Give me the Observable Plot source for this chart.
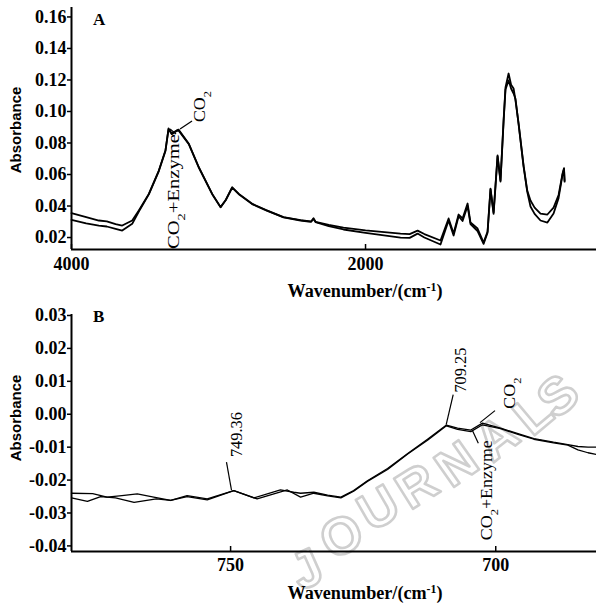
<!DOCTYPE html>
<html><head><meta charset="utf-8">
<script src="https://cdn.jsdelivr.net/npm/d3@7"></script>
<script src="https://cdn.jsdelivr.net/npm/@observablehq/plot@0.6"></script>
<style>
body{margin:0;background:#fff;}
#chart{width:596px;}
#chart svg{display:block;}
</style></head><body><div id="chart"></div>
<script>
// ---------- Panel A data (full spectrum) ----------
const waveA = [4000,3900,3814,3760,3700,3655,3587,3542,3474,3406,3361,3340,3318,3285,3272,3202,3134,3043,2986,2950,2907,2862,2771,2680,2558,2442,2400,2370,2354,2340,2250,2150,2000,1762,1700,1646,1600,1490,1435,1401,1367,1340,1306,1286,1238,1197,1170,1150,1129,1102,1082,1061,1048,1027,1010,993,980,959,925,900,878,850,810,763,721,687,660,650,646];
const absA_CO2 = [0.0355,0.0330,0.0308,0.0303,0.0285,0.0276,0.0308,0.0371,0.0477,0.0625,0.0752,0.0892,0.0860,0.0880,0.0885,0.0795,0.0646,0.0477,0.0393,0.0440,0.0519,0.0477,0.0414,0.0376,0.0330,0.0310,0.0305,0.0302,0.0322,0.0300,0.0280,0.0263,0.0245,0.0225,0.0222,0.0244,0.0222,0.0181,0.0321,0.0225,0.0346,0.0321,0.0416,0.0295,0.0257,0.0168,0.0238,0.0511,0.0359,0.0721,0.0562,0.0943,0.1152,0.1241,0.1170,0.1146,0.1070,0.0924,0.0657,0.0498,0.0435,0.0390,0.0352,0.0346,0.0390,0.0470,0.0606,0.0640,0.0560];
const absA_Enz = [0.0312,0.0290,0.0276,0.0270,0.0255,0.0244,0.0287,0.0365,0.0474,0.0622,0.0750,0.0888,0.0856,0.0876,0.0880,0.0793,0.0644,0.0475,0.0392,0.0438,0.0517,0.0475,0.0412,0.0374,0.0328,0.0308,0.0303,0.0300,0.0318,0.0298,0.0272,0.0251,0.0230,0.0200,0.0198,0.0225,0.0200,0.0156,0.0308,0.0213,0.0335,0.0305,0.0400,0.0285,0.0240,0.0160,0.0230,0.0505,0.0350,0.0715,0.0555,0.0935,0.1140,0.1197,0.1146,0.1114,0.1080,0.0920,0.0650,0.0490,0.0397,0.0350,0.0308,0.0295,0.0352,0.0450,0.0600,0.0635,0.0555];
const yTicksA = [0.02,0.04,0.06,0.08,0.10,0.12,0.14,0.16];
const xTicksA = [4000,2000];

// ---------- Panel B data (zoomed region) ----------
const waveB_CO2 = [780,776,773.3,770.5,767.6,764.5,761.3,758.2,754.4,749.4,745.6,740.6,738.1,736.8,734.3,731.7,729.2,726.8,724.2,720.4,716.6,712.8,709.3,707.2,704.7,702.5,699.1,695.8,692.8,689.1,686.4,684.5,682.6,681];
const absB_CO2 = [-0.0240,-0.0241,-0.0252,-0.0247,-0.0242,-0.0252,-0.0262,-0.0250,-0.0260,-0.0232,-0.0254,-0.0230,-0.0237,-0.0240,-0.0237,-0.0246,-0.0252,-0.0232,-0.0202,-0.0165,-0.0119,-0.0075,-0.0033,-0.0042,-0.0048,-0.0027,-0.0042,-0.0059,-0.0074,-0.0085,-0.0092,-0.0098,-0.0100,-0.0100];
const waveB_Enz = [780,777,774.5,771.7,768.2,764,761.3,758.2,754.4,749.4,745,739.3,736.8,734.3,731.7,729.2,726.8,724.2,720.4,716.6,712.8,709.3,707.2,704.7,702.5,699.1,695.8,692.8,689.1,686.4,684.5,682.6,681];
const absB_Enz = [-0.0254,-0.0265,-0.0250,-0.0254,-0.0268,-0.0257,-0.0262,-0.0247,-0.0257,-0.0232,-0.0257,-0.0230,-0.0252,-0.0240,-0.0248,-0.0254,-0.0234,-0.0204,-0.0168,-0.0121,-0.0078,-0.0035,-0.0046,-0.0053,-0.0032,-0.0044,-0.0061,-0.0076,-0.0087,-0.0094,-0.0108,-0.0117,-0.0122];
const yTicksB = [0.03,0.02,0.01,0.00,-0.01,-0.02,-0.03,-0.04];
const xTicksB = [750,700];

// ---------- Text ----------
const panelLabels = ["A","B"];
const yLabel = "Absorbance";
const xLabel = "Wavenumber/(cm⁻¹)";
const annoA_labels = ["CO₂+Enzyme","CO₂"];
const annoA_wave = [3340,3272];
const annoA_abs = [0.0892,0.0885];
const annoB_labels = ["749.36","709.25","CO₂","CO₂+Enzyme"];
const annoB_wave = [749.36,709.25,702.5,704.7];
const annoB_abs = [-0.0232,-0.0033,-0.0027,-0.0050];
const watermark = "JOURNALS";

// ---------- Layout (pixels) ----------
const SERIF = "'Liberation Serif','Times New Roman',serif";
const SANS = "'Liberation Sans',Arial,sans-serif";
const layoutA = {height:300, top:7, bottom:51, xDomain:[4000,429], yDomain:[0.0124,0.166], tickPad:8, lw:1.8,
  labelXY:[93,25], yLabelY:130, xLabelY:297,
  anno:[{lead:[2,1,8,6], pos:[11,121], len:115},{lead:[2,0,14,-8], pos:[27,-7], len:31}]};
const layoutB = {height:305, top:14, bottom:54, xDomain:[780,681], yDomain:[-0.0417,0.0303], tickPad:7, lw:1.3,
  labelXY:[93,22], yLabelY:118, xLabelY:299,
  anno:[{lead:[-2,0,-7,-28], pos:[9,-33], len:45},{lead:[0,0,7,-30], pos:[20,-32], len:45},
        {lead:[-2,0,13,-12], pos:[33,-14], len:31},{lead:[2,0,8,13], pos:[22,110], len:100}]};
// watermark letter centres and rotations (panel B pixel coords)
const wmLayout = [[306,268,-24],[341,235,-27],[378,207,-30],[416,185,-32],[456,163,-35],[496,137,-38],[532,113,-40],[557,95,-42]];

function addText(sel, {x, y, rotate=0, text, size, family, weight="normal", anchor="start", len=null}) {
  const t = sel.append("text")
    .attr("transform", `translate(${x},${y}) rotate(${rotate})`)
    .attr("font-size", size).attr("font-family", family).attr("font-weight", weight)
    .attr("text-anchor", anchor).attr("fill", "#000");
  if (len) t.attr("textLength", len).attr("lengthAdjust", "spacingAndGlyphs");
  text.split(/(₂|⁻¹)/).forEach(p => {
    if (p === "₂") t.append("tspan").attr("baseline-shift", "sub").attr("font-size", "70%").text("2");
    else if (p === "⁻¹") t.append("tspan").attr("baseline-shift", "super").attr("font-size", "65%").text("-1");
    else if (p) t.append("tspan").text(p);
  });
  return t;
}

function panel(series, L, xTicks, yTicks, label, annoLabels, annoWave, annoAbs) {
  const [y0] = L.yDomain;
  const tickLen = (L.yDomain[1] - L.yDomain[0]) * 5 / (L.height - L.top - L.bottom);
  const plot = Plot.plot({
    width: 596, height: L.height, marginLeft: 71, marginRight: 0, marginTop: L.top, marginBottom: L.bottom,
    style: {fontFamily: SERIF, fontSize: "18px", fontWeight: "bold", color: "#000", background: "#fff", overflow: "visible"},
    x: {domain: L.xDomain}, y: {domain: L.yDomain},
    marks: [
      Plot.axisY(yTicks, {tickSize: 4, tickPadding: 1, strokeWidth: 1.5, tickFormat: d => d.toFixed(2), label: null}),
      Plot.axisX(xTicks, {tickSize: 0, tickPadding: L.tickPad, tickFormat: d => String(d), label: null}),
      Plot.ruleX(xTicks, {y1: y0, y2: y0 + tickLen, strokeWidth: 1.5}),
      Plot.ruleY([y0], {strokeWidth: 2}),
      Plot.ruleX([L.xDomain[0]], {strokeWidth: 2}),
      ...series.map(s => Plot.line(s.wave.map((w, i) => ({w, a: s.abs[i]})),
        {x: "w", y: "a", stroke: "#000", strokeWidth: L.lw, strokeLinejoin: "round"}))
    ]
  });
  const svg = d3.select(plot);
  const sx = plot.scale("x"), sy = plot.scale("y");
  addText(svg, {x: L.labelXY[0], y: L.labelXY[1], text: label, size: 17, family: SERIF, weight: "bold"});
  addText(svg, {x: 21, y: L.yLabelY, rotate: -90, text: yLabel, size: 15, family: SANS, weight: "bold", anchor: "middle"});
  addText(svg, {x: 365, y: L.xLabelY, text: xLabel, size: 18, family: SERIF, weight: "bold", anchor: "middle", len: 155});
  const g = svg.append("g").attr("stroke", "#000").attr("stroke-width", 1.2);
  annoLabels.forEach((lab, i) => {
    const ax = sx.apply(annoWave[i]), ay = sy.apply(annoAbs[i]);
    const A = L.anno[i];
    g.append("line").attr("x1", ax + A.lead[0]).attr("y1", ay + A.lead[1]).attr("x2", ax + A.lead[2]).attr("y2", ay + A.lead[3]);
    addText(svg, {x: ax + A.pos[0], y: ay + A.pos[1], rotate: -90, text: lab, size: 16, family: SERIF, len: A.len});
  });
  return plot;
}

const root = document.getElementById("chart");
const pA = panel([{wave: waveA, abs: absA_CO2}, {wave: waveA, abs: absA_Enz}], layoutA, xTicksA, yTicksA,
  panelLabels[0], annoA_labels, annoA_wave, annoA_abs);
const pB = panel([{wave: waveB_CO2, abs: absB_CO2}, {wave: waveB_Enz, abs: absB_Enz}], layoutB, xTicksB, yTicksB,
  panelLabels[1], annoB_labels, annoB_wave, annoB_abs);

// faint watermark behind panel B, one letter at a time
const wm = d3.select(pB).insert("g", ":first-child")
  .attr("font-family", SANS).attr("font-weight", "bold").attr("font-size", 52)
  .attr("fill", "#fff").attr("stroke", "#cfcfcf").attr("stroke-width", 2.6)
  .attr("stroke-linejoin", "round").attr("text-anchor", "middle");
watermark.split("").forEach((ch, i) => {
  const [x, y, r] = wmLayout[i];
  wm.append("text").attr("transform", `translate(${x},${y}) rotate(${r})`).attr("dy", "0.36em").text(ch);
});

root.append(pA);
root.append(pB);
</script></body></html>
